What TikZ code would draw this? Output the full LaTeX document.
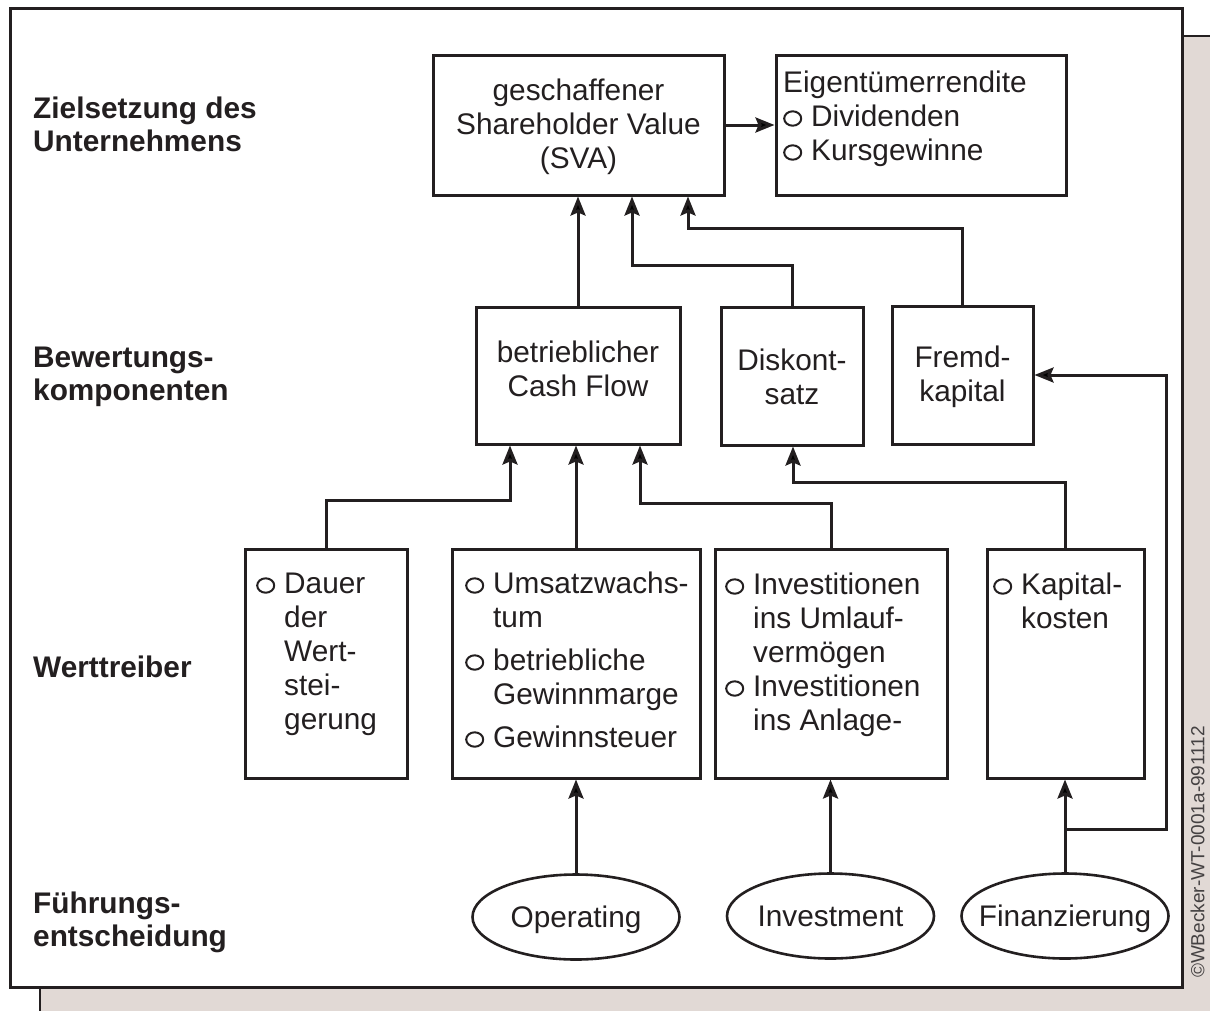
\documentclass[tikz,border=0pt]{standalone}
\usepackage{fontspec}
\setmainfont{Liberation Sans}
\usetikzlibrary{arrows.meta,shapes.geometric}
\definecolor{ink}{HTML}{231F20}
\definecolor{shade}{HTML}{E1D9D5}
% hollow list marker
\newcommand\ring{\begingroup\setlength{\unitlength}{1pt}\begin{picture}(18,14)
  \put(0,0){\tikz[baseline=0pt]\draw[ink,line width=2pt,x=1pt,y=1pt] (9,7.5) ellipse (8.5 and 7.2);}
  \end{picture}\endgroup}
\newcommand\gapr{\hspace{10pt}}
\begin{document}
\begin{tikzpicture}[x=1pt,y=-1pt,
  box/.style={draw=ink, line width=3pt, inner sep=0, fill=white},
  txt/.style={inner sep=0, text=ink, font=\fontsize{29.8}{34}\selectfont},
  lab/.style={inner sep=0, text=ink, font=\fontsize{29.8}{33}\selectfont\bfseries},
  oval/.style={ellipse, draw=ink, line width=2.6pt, inner sep=0, fill=white,
    minimum width=207pt, minimum height=85pt},
  conn/.style={draw=ink, line width=3pt, line join=miter,
    -{Stealth[length=19pt,width=15pt,inset=3pt]}}]
\useasboundingbox (0,0) rectangle (1210,1010);

% page shadow and frame
\draw[ink, line width=2.5pt, fill=shade] (40,36) rectangle (1240,1040);
\draw[ink, line width=3pt, fill=white] (10,8) rectangle (1182,987);

% row labels
\node[lab, anchor=base west] (l1) at (33,118) {\begin{tabular}[t]{@{}l@{}}Zielsetzung des\\Unternehmens\end{tabular}};
\node[lab, anchor=base west] (l2) at (33,367) {\begin{tabular}[t]{@{}l@{}}Bewertungs-\\komponenten\end{tabular}};
\node[lab, anchor=base west] (l3) at (33,677) {Werttreiber};
\node[lab, anchor=base west] (l4) at (33,913) {\begin{tabular}[t]{@{}l@{}}Führungs-\\entscheidung\end{tabular}};

% top row
\node[box, minimum width=291pt, minimum height=140pt] (sva) at (578.5,125) {};
\node[txt, anchor=base] (svat) at (578.5,100) {\begin{tabular}[t]{@{}c@{}}geschaffener\\Shareholder Value\\(SVA)\end{tabular}};
\node[box, minimum width=290pt, minimum height=140pt] (eig) at (921,125) {};
\node[txt, anchor=base west] (eigt) at (783,92) {\begin{tabular}[t]{@{}l@{\gapr}l@{}}\multicolumn{2}{@{}l@{}}{Eigentümerrendite}\\ \ring & Dividenden\\ \ring & Kursgewinne\end{tabular}};

% valuation components
\node[box, minimum width=204pt, minimum height=137pt] (cf) at (578,375.5) {};
\node[txt, anchor=base] (cft) at (578,362) {\begin{tabular}[t]{@{}c@{}}betrieblicher\\Cash Flow\end{tabular}};
\node[box, minimum width=142pt, minimum height=138pt] (disk) at (792,376) {};
\node[txt, anchor=base] (diskt) at (792,370) {\begin{tabular}[t]{@{}c@{}}Diskont-\\satz\end{tabular}};
\node[box, minimum width=141pt, minimum height=138pt] (fremd) at (962.5,375) {};
\node[txt, anchor=base] (fremdt) at (962.5,367) {\begin{tabular}[t]{@{}c@{}}Fremd-\\kapital\end{tabular}};

% value drivers
\node[box, minimum width=162pt, minimum height=229pt] (dauer) at (326,663.5) {};
\node[txt, anchor=base west] (dauert) at (256,593) {\begin{tabular}[t]{@{}l@{\gapr}l@{}}\ring & Dauer\\ & der\\ & Wert-\\ & stei-\\ & gerung\end{tabular}};
\node[box, minimum width=248pt, minimum height=229pt] (ums) at (576,663.5) {};
\node[txt, anchor=base west] (umst) at (465,593) {\begin{tabular}[t]{@{}l@{\gapr}l@{}}\ring & Umsatzwachs-\\ & tum\\[9pt] \ring & betriebliche\\ & Gewinnmarge\\[9pt] \ring & Gewinnsteuer\end{tabular}};
\node[box, minimum width=232pt, minimum height=229pt] (inv) at (831,663.5) {};
\node[txt, anchor=base west] (invt) at (725,594) {\begin{tabular}[t]{@{}l@{\gapr}l@{}}\ring & Investitionen\\ & ins Umlauf-\\ & vermögen\\ \ring & Investitionen\\ & ins Anlage-\end{tabular}};
\node[box, minimum width=157pt, minimum height=229pt] (kap) at (1065.5,663.5) {};
\node[txt, anchor=base west] (kapt) at (993,594) {\begin{tabular}[t]{@{}l@{\gapr}l@{}}\ring & Kapital-\\ & kosten\end{tabular}};

% management decisions
\node[oval] (op) at (576,917) {};
\node[txt, anchor=base] (opt) at (576,927) {Operating};
\node[oval] (invm) at (830.5,916) {};
\node[txt, anchor=base] (invmt) at (830.5,926) {Investment};
\node[oval] (fin) at (1065,916) {};
\node[txt, anchor=base] (fint) at (1065,926) {Finanzierung};

% connectors
\draw[conn] (sva.east) -- (eig.west);
\draw[conn] (cf.north) -- (cf.north |- sva.south);
\coordinate (dk) at (632,265);
\draw[conn] (disk.north) |- (dk) -- (dk |- sva.south);
\coordinate (fk) at (688,228);
\draw[conn] (fremd.north) |- (fk) -- (fk |- sva.south);
\coordinate (dw) at (510,500);
\draw[conn] (dauer.north) |- (dw) -- (dw |- cf.south);
\draw[conn] (ums.north) -- (ums.north |- cf.south);
\coordinate (iv) at (640,503);
\draw[conn] (inv.north) |- (iv) -- (iv |- cf.south);
\coordinate (kk) at (793,482);
\draw[conn] (kap.north) |- (kk) -- (kk |- disk.south);
\draw[conn] (op.north) -- (op.north |- ums.south);
\draw[conn] (invm.north) -- (invm.north |- inv.south);
\draw[conn] (fin.north) -- (fin.north |- kap.south);
\coordinate (split) at (fin.north |- 0,829);
\coordinate (fr) at (1166,829);
\draw[conn] (split) -- (fr) |- (fremd.east);

% credit line
\node[inner sep=0, rotate=90, text=ink!85, font=\fontsize{19}{20}\selectfont] (cr) at (1197.5,852) {©WBecker-WT-0001a-991112};
\end{tikzpicture}
\end{document}
